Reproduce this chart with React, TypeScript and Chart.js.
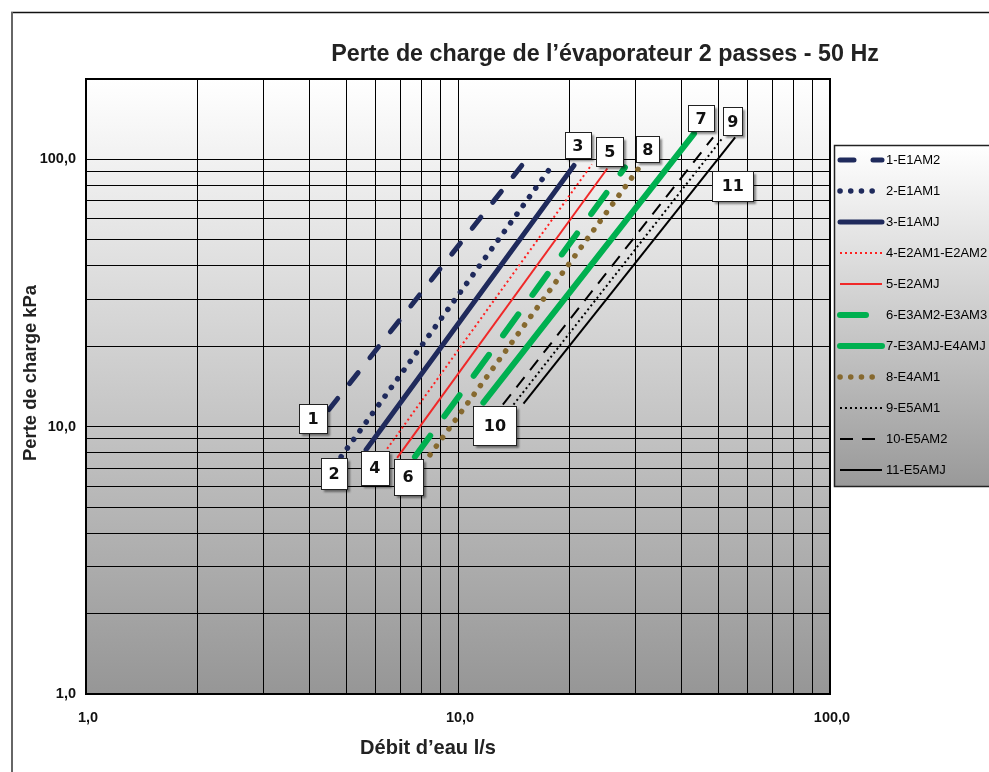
import React, { useEffect, useRef } from "react";
import { Chart, registerables } from "chart.js";
Chart.register(...registerables);

// ---- data ----
const seriesNames = [
  "1-E1AM2", "2-E1AM1", "3-E1AMJ", "4-E2AM1-E2AM2", "5-E2AMJ", "6-E3AM2-E3AM3",
  "7-E3AMJ-E4AMJ", "8-E4AM1", "9-E5AM1", "10-E5AM2", "11-E5AMJ",
];
const flowStart = [4.5, 4.85, 5.66, 6.45, 6.86, 7.66, 11.7, 8.41, 14.1, 13.2, 15.0];
const flowEnd = [15.8, 17.6, 20.5, 22.9, 25.2, 28.1, 43.1, 30.7, 51.6, 48.5, 55.6];
const dropStart = [11.6, 7.72, 8.2, 8.27, 7.65, 7.72, 12.3, 7.85, 12.1, 12.1, 12.2];
const dropEnd = [106, 91.8, 95.0, 95.8, 92.5, 93.3, 125, 93.3, 121, 121, 121];

const xTickValues = [1, 2, 3, 4, 5, 6, 7, 8, 9, 10, 20, 30, 40, 50, 60, 70, 80, 90, 100];
const yTickValues = [1, 2, 3, 4, 5, 6, 7, 8, 9, 10, 20, 30, 40, 50, 60, 70, 80, 90, 100, 200];
const xTickLabels = ["1,0", "10,0", "100,0"];
const xTickLabelValues = [1, 10, 100];
const yTickLabels = ["1,0", "10,0", "100,0"];
const yTickLabelValues = [1, 10, 100];

const labelTexts = ["1", "2", "3", "4", "5", "6", "7", "8", "9", "10", "11"];
const labelFlow = [4.08, 4.64, 21.0, 5.98, 25.6, 7.34, 45.0, 32.4, 54.8, 12.57, 54.8];
const labelDrop = [10.7, 6.67, 112.8, 7.02, 107, 6.5, 142.5, 109, 138.8, 10.08, 79.9];

const chartTitle = "Perte de charge de l’évaporateur 2 passes - 50 Hz";
const xTitle = "Débit d’eau l/s";
const yTitle = "Perte de charge kPa";

// ---- styles ----
const NAVY = "#1f2a5c";
const lineStyles = [
  { color: NAVY, width: 5, dash: [14, 19], cap: "round" },
  { color: NAVY, width: 5.5, dash: [0.1, 10.6], cap: "round" },
  { color: NAVY, width: 5, dash: [], cap: "round" },
  { color: "#ff2020", width: 2, dash: [2, 3], cap: "butt" },
  { color: "#f02828", width: 2, dash: [], cap: "butt" },
  { color: "#00b050", width: 6, dash: [26, 24], cap: "round" },
  { color: "#00b050", width: 6, dash: [], cap: "round" },
  { color: "#86692f", width: 5.5, dash: [0.1, 10.6], cap: "round" },
  { color: "#000000", width: 2, dash: [2, 3], cap: "butt" },
  { color: "#000000", width: 2, dash: [13, 9], cap: "butt" },
  { color: "#000000", width: 2, dash: [], cap: "butt" },
];
const labelBoxW = [28, 26, 26, 28, 27, 29, 26, 23, 19, 43, 41];
const labelBoxH = [29, 31, 26, 34, 29, 36, 26, 26, 28, 39, 30];

const FONT = "'Liberation Sans', Arial, sans-serif";

function fitFont(ctx: CanvasRenderingContext2D, text: string, target: number, weight: string, family: string) {
  ctx.font = `${weight} 20px ${family}`;
  const w = ctx.measureText(text).width;
  const size = (20 * target) / w;
  ctx.font = `${weight} ${size.toFixed(2)}px ${family}`;
}

const decorPlugin = {
  id: "decor",
  beforeDraw(chart: any) {
    const { ctx, chartArea: a } = chart;
    ctx.save();
    ctx.fillStyle = "#ffffff";
    ctx.fillRect(0, 0, chart.width, chart.height);
    const g = ctx.createLinearGradient(0, a.top, 0, a.bottom);
    g.addColorStop(0, "#ffffff");
    g.addColorStop(1, "#969696");
    ctx.fillStyle = g;
    ctx.fillRect(a.left, a.top, a.right - a.left, a.bottom - a.top);
    ctx.restore();
  },
  afterDraw(chart: any) {
    const { ctx, chartArea: a } = chart;
    const xs = chart.scales.x;
    const ys = chart.scales.y;
    ctx.save();

    // plot border
    ctx.strokeStyle = "#000";
    ctx.lineWidth = 2;
    ctx.strokeRect(a.left, a.top, a.right - a.left, a.bottom - a.top);

    // label boxes
    for (let i = 0; i < labelTexts.length; i++) {
      const cx = xs.getPixelForValue(labelFlow[i]);
      const cy = ys.getPixelForValue(labelDrop[i]);
      const w = labelBoxW[i];
      const h = labelBoxH[i];
      const x0 = Math.round(cx - w / 2) + 0.5;
      const y0 = Math.round(cy - h / 2) + 0.5;
      ctx.save();
      ctx.shadowColor = "rgba(0,0,0,0.45)";
      ctx.shadowOffsetX = 2;
      ctx.shadowOffsetY = 2;
      ctx.shadowBlur = 2;
      ctx.fillStyle = "#ffffff";
      ctx.fillRect(x0, y0, w, h);
      ctx.restore();
      ctx.strokeStyle = "#222";
      ctx.lineWidth = 1;
      ctx.strokeRect(x0, y0, w, h);
      ctx.fillStyle = "#111";
      ctx.font = "bold 16px 'DejaVu Sans', sans-serif";
      ctx.textAlign = "center";
      ctx.textBaseline = "middle";
      ctx.fillText(labelTexts[i], cx, cy + 1);
    }

    // legend
    const lx = 834.5, ly = 145.5, lw = 170, lh = 341;
    const lg = ctx.createLinearGradient(0, ly, 0, ly + lh);
    lg.addColorStop(0, "#ffffff");
    lg.addColorStop(1, "#999999");
    ctx.fillStyle = lg;
    ctx.fillRect(lx, ly, lw, lh);
    ctx.strokeStyle = "#222";
    ctx.lineWidth = 1.5;
    ctx.strokeRect(lx, ly, lw, lh);
    for (let i = 0; i < seriesNames.length; i++) {
      const yy = 160 + i * 31;
      const st = lineStyles[i];
      ctx.save();
      ctx.strokeStyle = st.color;
      ctx.lineWidth = st.width;
      ctx.lineCap = st.cap as CanvasLineCap;
      ctx.setLineDash(st.dash);
      ctx.beginPath();
      ctx.moveTo(840, yy);
      ctx.lineTo(882, yy);
      ctx.stroke();
      ctx.restore();
      ctx.fillStyle = "#000";
      ctx.font = `13px ${FONT}`;
      ctx.textAlign = "left";
      ctx.textBaseline = "middle";
      ctx.fillText(seriesNames[i], 886, yy);
    }

    // tick labels
    ctx.fillStyle = "#111";
    ctx.textBaseline = "middle";
    ctx.font = `bold 14.5px ${FONT}`;
    ctx.textAlign = "right";
    for (let i = 0; i < yTickLabels.length; i++) {
      ctx.fillText(yTickLabels[i], 76, ys.getPixelForValue(yTickLabelValues[i]));
    }
    ctx.textAlign = "center";
    for (let i = 0; i < xTickLabels.length; i++) {
      ctx.fillText(xTickLabels[i], xs.getPixelForValue(xTickLabelValues[i]) + 2, 718);
    }

    // titles
    ctx.fillStyle = "#222";
    fitFont(ctx, chartTitle, 548, "bold", FONT);
    ctx.textAlign = "center";
    ctx.fillText(chartTitle, 605, 55);

    fitFont(ctx, xTitle, 136, "bold", FONT);
    ctx.fillText(xTitle, 428, 748);

    ctx.save();
    ctx.translate(31, 373);
    ctx.rotate(-Math.PI / 2);
    fitFont(ctx, yTitle, 176, "bold", FONT);
    ctx.fillText(yTitle, 0, 0);
    ctx.restore();

    // outer frame
    ctx.strokeStyle = "#111";
    ctx.lineWidth = 1.5;
    ctx.beginPath();
    ctx.moveTo(11, 12.5);
    ctx.lineTo(989, 12.5);
    ctx.stroke();
    ctx.strokeStyle = "#666";
    ctx.lineWidth = 2;
    ctx.beginPath();
    ctx.moveTo(12, 12);
    ctx.lineTo(12, 772);
    ctx.stroke();

    ctx.restore();
  },
};

export default function App() {
  const ref = useRef<HTMLCanvasElement | null>(null);
  useEffect(() => {
    if (!ref.current) return;
    const datasets = seriesNames.map((name, i) => ({
      label: name,
      data: [
        { x: flowStart[i], y: dropStart[i] },
        { x: flowEnd[i], y: dropEnd[i] },
      ],
      showLine: true,
      borderColor: lineStyles[i].color,
      backgroundColor: lineStyles[i].color,
      borderWidth: lineStyles[i].width,
      borderDash: lineStyles[i].dash,
      borderCapStyle: lineStyles[i].cap,
      pointRadius: 0,
      pointHoverRadius: 0,
      fill: false,
    }));
    const gridCommon = { color: "#000", lineWidth: 1, drawTicks: false };
    const chart = new Chart(ref.current, {
      type: "scatter",
      data: { datasets },
      options: {
        animation: false,
        responsive: false,
        devicePixelRatio: 1,
        layout: { padding: { left: 86, top: 79, right: 159, bottom: 78 } },
        plugins: { legend: { display: false }, title: { display: false }, tooltip: { enabled: false } },
        events: [],
        scales: {
          x: {
            type: "logarithmic",
            min: 1,
            max: 100,
            afterBuildTicks: (s: any) => { s.ticks = xTickValues.map((v) => ({ value: v })); },
            ticks: { display: false, autoSkip: false },
            grid: gridCommon,
            border: { display: true, color: "#000", width: 2 },
          },
          y: {
            type: "logarithmic",
            min: 1,
            max: 200,
            afterBuildTicks: (s: any) => { s.ticks = yTickValues.map((v) => ({ value: v })); },
            ticks: { display: false, autoSkip: false },
            grid: gridCommon,
            border: { display: true, color: "#000", width: 2 },
          },
        },
      } as any,
      plugins: [decorPlugin],
    });
    return () => chart.destroy();
  }, []);
  return (
    <div style={{ position: "absolute", left: 0, top: 0, width: 989, height: 772, overflow: "hidden" }}>
      <canvas ref={ref} width={989} height={772} style={{ display: "block" }} />
    </div>
  );
}
